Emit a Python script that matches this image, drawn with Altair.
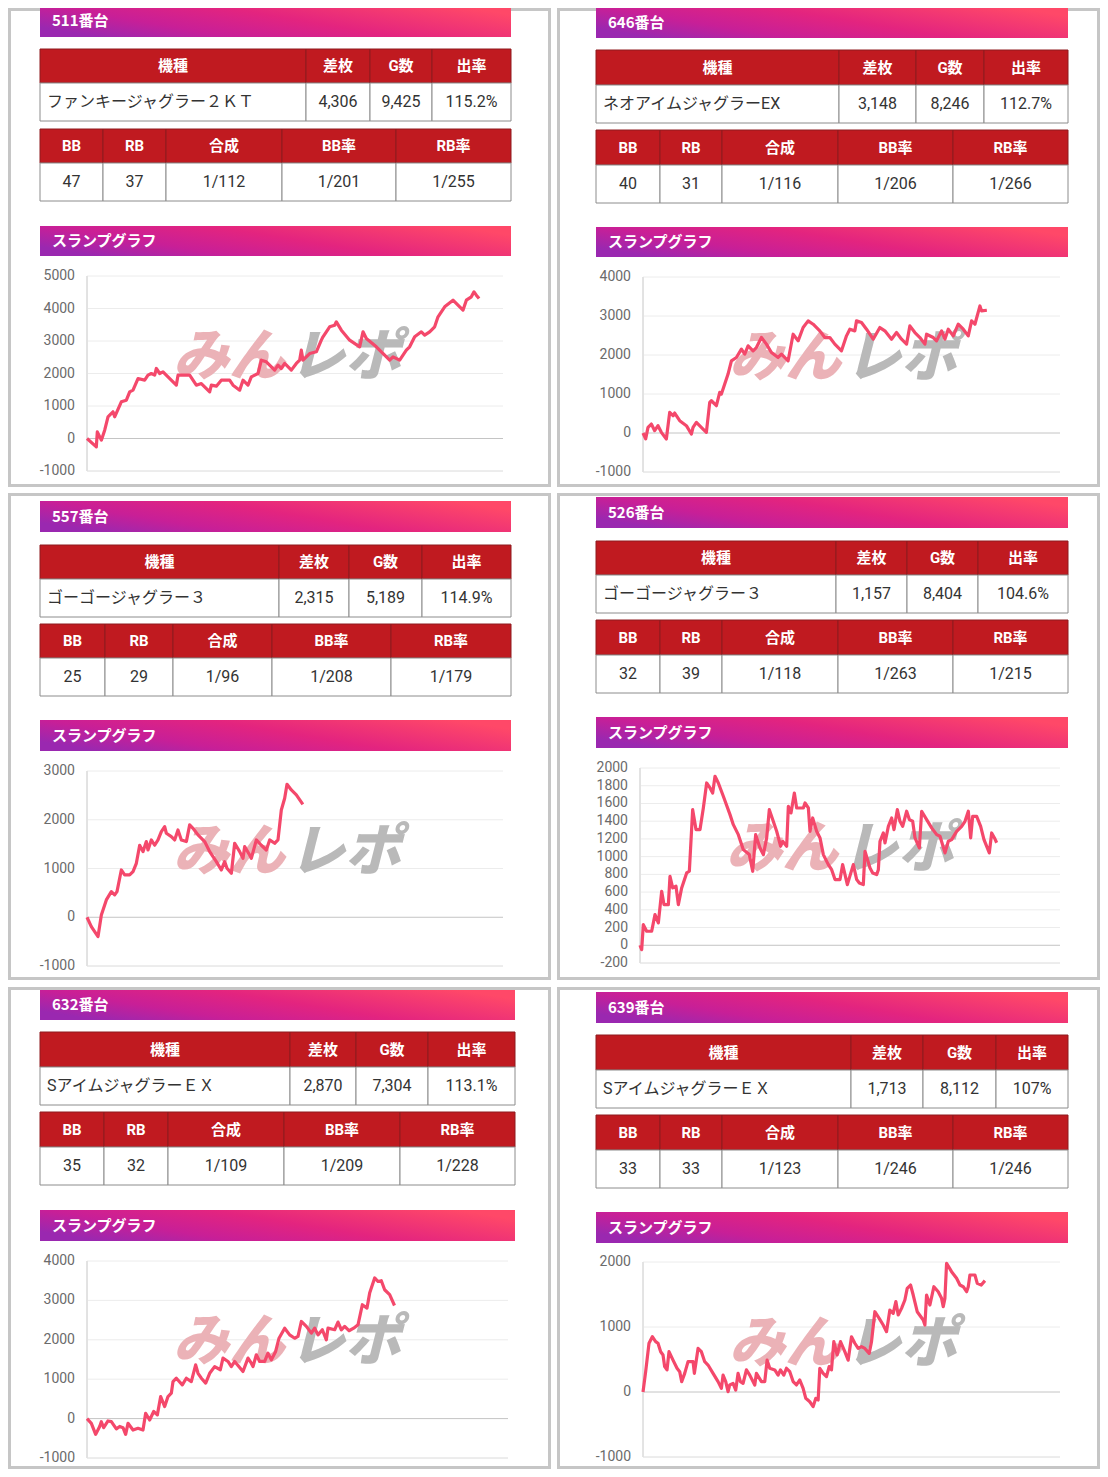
import altair as alt
import pandas as pd

# ------------------------------------------------------------------ data
units = ["511番台", "646番台", "557番台", "526番台", "632番台", "639番台"]
machines = ["ファンキージャグラー２ＫＴ", "ネオアイムジャグラーEX", "ゴーゴージャグラー３",
            "ゴーゴージャグラー３", "SアイムジャグラーＥＸ", "SアイムジャグラーＥＸ"]
diff_coins = ["4,306", "3,148", "2,315", "1,157", "2,870", "1,713"]
game_counts = ["9,425", "8,246", "5,189", "8,404", "7,304", "8,112"]
payout = ["115.2%", "112.7%", "114.9%", "104.6%", "113.1%", "107%"]
bb_counts = ["47", "40", "25", "32", "35", "33"]
rb_counts = ["37", "31", "29", "39", "32", "33"]
combined = ["1/112", "1/116", "1/96", "1/118", "1/109", "1/123"]
bb_rate = ["1/201", "1/206", "1/208", "1/263", "1/209", "1/246"]
rb_rate = ["1/255", "1/266", "1/179", "1/215", "1/228", "1/246"]
t1_heads = ["機種", "差枚", "G数", "出率"]
t2_heads = ["BB", "RB", "合成", "BB率", "RB率"]
slump_title = "スランプグラフ"

ticks_511 = [5000, 4000, 3000, 2000, 1000, 0, -1000]
ticks_646 = [4000, 3000, 2000, 1000, 0, -1000]
ticks_557 = [3000, 2000, 1000, 0, -1000]
ticks_526 = [2000, 1800, 1600, 1400, 1200, 1000, 800, 600, 400, 200, 0, -200]
ticks_632 = [4000, 3000, 2000, 1000, 0, -1000]
ticks_639 = [2000, 1000, 0, -1000]
games_max = 10000

# (games, coin difference)
s511 = [(0, 0), (224, -256), (248, 205), (345, -51), (425, 256), (505, 667), (545, 718), (625, 821),
        (665, 667), (825, 1128), (946, 1179), (1026, 1436), (1106, 1487), (1226, 1846), (1386, 1795),
        (1466, 1949), (1546, 2000), (1627, 1949), (1667, 2154), (1747, 2000), (1827, 2051), (1947, 1897),
        (2147, 1641), (2188, 1949), (2468, 1949), (2628, 1641), (2748, 1692), (2949, 1436), (2989, 1641),
        (3109, 1610), (3229, 1795), (3429, 1795), (3510, 1641), (3670, 1487), (3750, 1795), (3870, 1641),
        (3950, 1897), (4111, 2000), (4191, 2410), (4311, 2359), (4511, 2103), (4591, 2256), (4671, 2154),
        (4752, 2308), (4912, 2103), (5032, 2308), (5112, 2410), (5152, 2718), (5192, 2410), (5353, 2615),
        (5513, 2667), (5633, 3026), (5673, 3128), (5833, 3436), (5954, 3487), (5994, 3590), (6114, 3333),
        (6314, 3026), (6554, 2821), (6635, 3282), (6715, 3077), (6955, 2821), (7276, 2410), (7356, 2513),
        (7516, 2410), (7676, 2718), (7756, 2821), (7877, 3128), (8037, 3282), (8117, 3179), (8237, 3282),
        (8357, 3436), (8438, 3744), (8598, 4051), (8798, 4256), (9038, 3949), (9119, 4256), (9239, 4359),
        (9303, 4513), (9359, 4410), (9425, 4306)]
s646 = [(0, 0), (64, -150), (120, 145), (200, 230), (280, 60), (360, 188), (440, 17), (560, -154),
        (640, 529), (720, 444), (760, 512), (880, 316), (1040, 188), (1160, -26), (1200, 145), (1280, 273),
        (1440, 102), (1520, 17), (1600, 785), (1640, 827), (1760, 700), (1840, 1041), (1880, 998),
        (1960, 1254), (2040, 1510), (2120, 1851), (2240, 1936), (2360, 2150), (2440, 2022), (2520, 2235),
        (2640, 2107), (2720, 2192), (2840, 2448), (2960, 2278), (3080, 2064), (3240, 1936), (3320, 2022),
        (3480, 1851), (3600, 2533), (3720, 2363), (3840, 2704), (3960, 2875), (4080, 2789), (4240, 2619),
        (4360, 2448), (4480, 2448), (4600, 2278), (4760, 2107), (4880, 2491), (4960, 2661), (5080, 2619),
        (5120, 2875), (5240, 2832), (5360, 2661), (5520, 2405), (5680, 2704), (5800, 2619), (5960, 2405),
        (6080, 2576), (6200, 2405), (6320, 2278), (6400, 2747), (6520, 2576), (6640, 2448), (6760, 2278),
        (6800, 2533), (6960, 2448), (7040, 2363), (7160, 2619), (7240, 2405), (7320, 2661), (7440, 2491),
        (7560, 2789), (7680, 2661), (7800, 2491), (7880, 2875), (7960, 2789), (8080, 3258), (8120, 3130),
        (8246, 3148)]
s557 = [(0, 0), (104, -191), (265, -396), (345, 48), (385, 150), (465, 355), (585, 526), (665, 458),
        (721, 526), (825, 970), (905, 868), (1025, 868), (1106, 936), (1186, 1107), (1266, 1477),
        (1346, 1346), (1426, 1552), (1466, 1380), (1546, 1586), (1627, 1477), (1707, 1586), (1787, 1757),
        (1867, 1859), (1907, 1723), (2027, 1654), (2107, 1586), (2187, 1791), (2268, 1586), (2388, 1552),
        (2468, 1894), (2548, 1825), (2668, 1689), (2828, 1552), (2949, 1346), (3109, 1141), (3229, 970),
        (3309, 1141), (3365, 1004), (3470, 902), (3550, 1518), (3670, 1346), (3750, 1209), (3790, 1449),
        (3910, 1278), (3950, 1209), (4071, 1586), (4191, 1477), (4311, 1380), (4391, 1586), (4511, 1518),
        (4591, 1586), (4671, 2201), (4752, 2440), (4808, 2727), (4912, 2611), (5032, 2509), (5189, 2315)]
s526 = [(0, 0), (40, -50), (79, 233), (159, 158), (278, 158), (357, 346), (437, 252), (516, 609),
        (571, 459), (675, 459), (714, 778), (778, 647), (857, 666), (913, 459), (992, 647), (1111, 816),
        (1175, 835), (1254, 1530), (1333, 1305), (1429, 1305), (1508, 1550), (1587, 1831), (1667, 1775),
        (1730, 1718), (1786, 1906), (1865, 1831), (1984, 1681), (2143, 1474), (2222, 1361), (2341, 1248),
        (2460, 1079), (2603, 1023), (2683, 835), (2754, 1248), (2857, 1098), (2937, 1023), (3016, 1211),
        (3079, 1530), (3159, 1418), (3254, 1286), (3349, 1117), (3397, 1173), (3492, 1117), (3532, 1568),
        (3595, 1493), (3675, 1718), (3730, 1549), (3889, 1549), (3929, 1605), (4008, 1549), (4048, 1286),
        (4111, 1436), (4206, 1286), (4286, 1211), (4365, 1023), (4484, 910), (4563, 853), (4643, 741),
        (4762, 741), (4825, 910), (4937, 684), (5079, 910), (5159, 741), (5222, 703), (5317, 684),
        (5357, 1060), (5476, 872), (5540, 816), (5635, 797), (5675, 853), (5714, 1173), (5794, 1267),
        (5833, 1154), (5913, 1342), (5992, 1436), (6048, 1305), (6127, 1530), (6190, 1399), (6254, 1342),
        (6349, 1512), (6413, 1418), (6492, 1399), (6548, 1211), (6651, 1098), (6706, 1512), (6825, 1418),
        (6944, 1324), (7063, 1248), (7143, 1230), (7262, 1042), (7341, 1173), (7421, 1192), (7540, 1286),
        (7659, 1342), (7738, 1399), (7817, 1512), (7873, 1211), (7921, 1455), (8016, 1455), (8111, 1342),
        (8190, 1192), (8317, 1042), (8373, 1267), (8440, 1211), (8492, 1157)]
s632 = [(0, 0), (103, -120), (206, -400), (301, -200), (340, -80), (396, -230), (499, -60), (578, -75),
        (697, -260), (776, -200), (855, -230), (918, -400), (974, -120), (1093, -290), (1211, -245),
        (1330, -290), (1393, 135), (1488, -35), (1584, 180), (1671, 95), (1750, 560), (1845, 305),
        (1924, 560), (2003, 645), (2043, 940), (2122, 1025), (2264, 855), (2359, 1025), (2478, 940),
        (2581, 1365), (2637, 1150), (2716, 1025), (2819, 900), (2914, 1150), (3032, 1320), (3167, 1240),
        (3230, 1535), (3349, 1450), (3428, 1320), (3508, 1450), (3705, 1195), (3824, 1535), (3903, 1405),
        (3943, 1320), (4022, 1620), (4101, 1450), (4220, 1450), (4299, 1660), (4379, 1490), (4481, 1705),
        (4561, 2040), (4695, 2295), (4814, 2125), (4933, 2040), (5012, 2085), (5091, 2465), (5210, 2340),
        (5329, 2170), (5408, 2295), (5487, 2125), (5590, 2255), (5685, 2000), (5724, 2295), (5883, 2255),
        (5962, 2450), (6041, 2255), (6120, 2340), (6223, 2230), (6334, 2295), (6437, 2380), (6540, 2890),
        (6651, 2805), (6714, 3185), (6833, 3570), (6912, 3480), (6991, 3500), (7070, 3270), (7189, 3145),
        (7304, 2870)]
s639 = [(0, 0), (64, 313), (144, 750), (224, 850), (304, 775), (360, 750), (424, 620), (480, 570),
        (520, 390), (576, 340), (624, 620), (720, 490), (816, 365), (880, 313), (928, 160), (1000, 287),
        (1080, 467), (1200, 467), (1232, 287), (1320, 670), (1400, 620), (1480, 467), (1560, 415),
        (1680, 287), (1800, 160), (1880, 56), (1920, 260), (1984, 160), (2040, 5), (2080, 108), (2160, 133),
        (2224, 30), (2280, 287), (2336, 160), (2400, 133), (2480, 340), (2560, 260), (2680, 108), (2720, 287),
        (2840, 160), (2920, 160), (2976, 490), (3040, 365), (3160, 340), (3240, 260), (3296, 340),
        (3376, 260), (3440, 365), (3520, 313), (3600, 160), (3680, 108), (3760, 185), (3840, 56),
        (3904, -97), (4000, -150), (4080, -225), (4144, -97), (4200, -123), (4240, 365), (4320, 287),
        (4400, 236), (4464, 390), (4520, 340), (4576, 775), (4656, 570), (4736, 775), (4840, 620),
        (4920, 490), (5000, 850), (5080, 750), (5160, 670), (5240, 697), (5320, 670), (5424, 595),
        (5480, 775), (5560, 1235), (5664, 1133), (5760, 1030), (5840, 928), (5920, 1260), (6000, 1210),
        (6064, 1390), (6120, 1185), (6200, 1287), (6280, 1415), (6336, 1595), (6416, 1646), (6480, 1492),
        (6576, 1235), (6720, 1108), (6760, 1030), (6800, 1492), (6880, 1338), (6976, 1620), (7080, 1543),
        (7160, 1441), (7200, 1313), (7240, 1441), (7280, 1980), (7400, 1851), (7520, 1749), (7600, 1646),
        (7680, 1620), (7760, 1543), (7800, 1620), (7840, 1800), (7960, 1800), (8016, 1672), (8112, 1646),
        (8200, 1713)]

series = [s511, s646, s557, s526, s632, s639]
ticks = [ticks_511, ticks_646, ticks_557, ticks_526, ticks_632, ticks_639]

# ------------------------------------------------------------------ layout (reference page pixels)
OFF = 8
W, H = 1092, 1461
FONT = "Roboto, 'Noto Sans CJK JP', sans-serif"
JFONT = "'Noto Sans CJK JP', Roboto, sans-serif"
HEAD_RED = "#c01a20"
HEAD_LINE = "#8e1b1e"
CELL_LINE = "#8c8c8c"
LINE_COL = "#f4486b"

LAY = [
    dict(hdr=(40, 511, 5, 37), t1=(49, 83, 121), c1=(40, 306, 370, 432, 511), t2=(129, 163, 201),
         c2=(40, 103, 166, 282, 396, 511), sl=(226, 256), px=(87, 503), py=(276, 471)),
    dict(hdr=(596, 1068, 7, 38), t1=(50, 85, 123), c1=(596, 839, 916, 984, 1068), t2=(130, 165, 203),
         c2=(596, 660, 722, 838, 953, 1068), sl=(227, 257), px=(643, 1060), py=(277, 472)),
    dict(hdr=(40, 511, 501, 532), t1=(545, 579, 617), c1=(40, 279, 349, 422, 511), t2=(624, 658, 696),
         c2=(40, 105, 173, 272, 391, 511), sl=(720, 751), px=(87, 503), py=(771, 966)),
    dict(hdr=(596, 1068, 497, 528), t1=(541, 575, 613), c1=(596, 836, 907, 978, 1068), t2=(620, 655, 693),
         c2=(596, 660, 722, 838, 953, 1068), sl=(717, 748), px=(640, 1060), py=(768, 963)),
    dict(hdr=(40, 515, 990, 1020), t1=(1032, 1067, 1105), c1=(40, 290, 356, 428, 515), t2=(1112, 1147, 1185),
         c2=(40, 104, 168, 284, 400, 515), sl=(1210, 1241), px=(87, 508), py=(1261, 1458)),
    dict(hdr=(596, 1068, 992, 1023), t1=(1035, 1070, 1108), c1=(596, 851, 923, 996, 1068), t2=(1115, 1150, 1188),
         c2=(596, 660, 722, 838, 953, 1068), sl=(1212, 1243), px=(643, 1060), py=(1262, 1457)),
]
# cell frames in chart-local pixels
BOX = [(0, 543, 0, 479), (549, 1092, 0, 479), (0, 543, 485, 972),
       (549, 1092, 485, 972), (0, 543, 979, 1461), (549, 1092, 979, 1461)]


def P(v):
    return v - OFF


def mid(a, b):
    return (a + b) / 2


def XN(f):
    return alt.X(f, scale=None, axis=None)


def YN(f):
    return alt.Y(f, scale=None, axis=None)


frames = pd.DataFrame([dict(x=b[0] + 1.5, x2=b[1] - 1.5, y=b[2] + 1.5, y2=b[3] - 1.5) for b in BOX])

bars, cells, bar_txt, th_txt, td_txt, nm_txt, wm = [], [], [], [], [], [], []
for i, L in enumerate(LAY):
    hx0, hx1, hy0, hy1 = L["hdr"]
    s0, s1 = L["sl"]
    bars.append(dict(x=P(hx0), x2=P(hx1), y=P(hy0), y2=P(hy1)))
    bars.append(dict(x=P(hx0), x2=P(hx1), y=P(s0), y2=P(s1)))
    bar_txt.append(dict(x=P(hx0 + 12), y=P(mid(hy0, hy1)), t=units[i]))
    bar_txt.append(dict(x=P(hx0 + 12), y=P(mid(s0, s1)), t=slump_title))

    a, b, c = L["t1"]
    cc = L["c1"]
    row1 = [machines[i], diff_coins[i], game_counts[i], payout[i]]
    for j in range(4):
        cells.append(dict(x=P(cc[j]), x2=P(cc[j + 1]), y=P(a), y2=P(b), f=HEAD_RED, s=HEAD_LINE))
        cells.append(dict(x=P(cc[j]), x2=P(cc[j + 1]), y=P(b), y2=P(c), f="#ffffff", s=CELL_LINE))
        th_txt.append(dict(x=P(mid(cc[j], cc[j + 1])), y=P(mid(a, b)), t=t1_heads[j]))
        if j == 0:
            nm_txt.append(dict(x=P(cc[0] + 7), y=P(mid(b, c)), t=row1[0]))
        else:
            td_txt.append(dict(x=P(mid(cc[j], cc[j + 1])), y=P(mid(b, c)), t=row1[j]))

    a, b, c = L["t2"]
    cc = L["c2"]
    row2 = [bb_counts[i], rb_counts[i], combined[i], bb_rate[i], rb_rate[i]]
    for j in range(5):
        cells.append(dict(x=P(cc[j]), x2=P(cc[j + 1]), y=P(a), y2=P(b), f=HEAD_RED, s=HEAD_LINE))
        cells.append(dict(x=P(cc[j]), x2=P(cc[j + 1]), y=P(b), y2=P(c), f="#ffffff", s=CELL_LINE))
        th_txt.append(dict(x=P(mid(cc[j], cc[j + 1])), y=P(mid(a, b)), t=t2_heads[j]))
        td_txt.append(dict(x=P(mid(cc[j], cc[j + 1])), y=P(mid(b, c)), t=row2[j]))

    px0 = L["px"][0]
    wm.append(dict(x=P(px0 + 142), x2=P(px0 + 258), y=P(s1 + 102)))

grad = alt.LinearGradient(
    gradient="linear",
    stops=[alt.GradientStop(color="#9a28b0", offset=0),
           alt.GradientStop(color="#c81f97", offset=0.25),
           alt.GradientStop(color="#e3247f", offset=0.55),
           alt.GradientStop(color="#ff4868", offset=1)],
    x1=0, y1=0.7, x2=1, y2=0.3)

layers = []
layers.append(alt.Chart(frames).mark_rect(fill="white", stroke="#c6c6c6", strokeWidth=3).encode(
    x=XN("x:Q"), x2="x2:Q", y=YN("y:Q"), y2="y2:Q"))
layers.append(alt.Chart(pd.DataFrame(bars)).mark_rect(fill=grad).encode(
    x=XN("x:Q"), x2="x2:Q", y=YN("y:Q"), y2="y2:Q"))
layers.append(alt.Chart(pd.DataFrame(cells)).mark_rect(strokeWidth=1).encode(
    x=XN("x:Q"), x2="x2:Q", y=YN("y:Q"), y2="y2:Q",
    fill=alt.Fill("f:N", scale=None), stroke=alt.Stroke("s:N", scale=None)))
layers.append(alt.Chart(pd.DataFrame(bar_txt)).mark_text(
    align="left", baseline="middle", font=JFONT, fontSize=15, fontWeight="bold", color="white").encode(
    x=XN("x:Q"), y=YN("y:Q"), text="t:N"))
layers.append(alt.Chart(pd.DataFrame(th_txt)).mark_text(
    align="center", baseline="middle", font=FONT, fontSize=15, fontWeight="bold", color="white").encode(
    x=XN("x:Q"), y=YN("y:Q"), text="t:N"))
layers.append(alt.Chart(pd.DataFrame(td_txt)).mark_text(
    align="center", baseline="middle", font=FONT, fontSize=16, color="#333333").encode(
    x=XN("x:Q"), y=YN("y:Q"), text="t:N"))
layers.append(alt.Chart(pd.DataFrame(nm_txt)).mark_text(
    align="left", baseline="middle", font=FONT, fontSize=16, color="#333333").encode(
    x=XN("x:Q"), y=YN("y:Q"), text="t:N"))

for i, L in enumerate(LAY):
    tk = ticks[i]
    lo, hi = min(tk), max(tk)
    px0, px1 = L["px"]
    pyt, pyb = L["py"]
    ys = alt.Scale(domain=[lo, hi], range=[P(pyb), P(pyt)], nice=False, zero=False)
    tdf = pd.DataFrame(dict(t=tk, lab=[str(v) for v in tk],
                            c=["#c4c4c4" if v == 0 else ("#dadada" if v == lo else "#ececec") for v in tk]))
    layers.append(alt.Chart(tdf).mark_rule(strokeWidth=1).encode(
        y=alt.Y("t:Q", scale=ys, axis=None), x=alt.value(P(px0)), x2=alt.value(P(px1)),
        color=alt.Color("c:N", scale=None)))
    layers.append(alt.Chart(tdf).mark_rule(color="#e2e2e2", strokeWidth=1).encode(
        x=alt.value(P(px0)), y=alt.value(P(pyt)), y2=alt.value(P(pyb))))
    layers.append(alt.Chart(tdf).mark_text(
        align="right", baseline="middle", font=FONT, fontSize=14, color="#6b6b6b").encode(
        y=alt.Y("t:Q", scale=ys, axis=None), x=alt.value(P(px0) - 12), text="lab:N"))

wmdf = pd.DataFrame(wm)
layers.append(alt.Chart(wmdf).mark_text(
    text="みん", align="center", baseline="middle", font=JFONT, fontSize=56, fontWeight=900,
    fontStyle="italic", color="#ebb2b7").encode(x=XN("x:Q"), y=YN("y:Q")))
layers.append(alt.Chart(wmdf).mark_text(
    text="レポ", align="center", baseline="middle", font=JFONT, fontSize=56, fontWeight=900,
    fontStyle="italic", color="#b9b9b9").encode(x=XN("x2:Q"), y=YN("y:Q")))

for i, L in enumerate(LAY):
    tk = ticks[i]
    lo, hi = min(tk), max(tk)
    px0, px1 = L["px"]
    pyt, pyb = L["py"]
    xs = alt.Scale(domain=[0, games_max], range=[P(px0), P(px1)], nice=False, zero=False)
    ys = alt.Scale(domain=[lo, hi], range=[P(pyb), P(pyt)], nice=False, zero=False)
    sdf = pd.DataFrame(series[i], columns=["g", "v"])
    layers.append(alt.Chart(sdf).mark_line(color=LINE_COL, strokeWidth=3.2, strokeJoin="round").encode(
        x=alt.X("g:Q", scale=xs, axis=None), y=alt.Y("v:Q", scale=ys, axis=None)))

chart = alt.layer(*layers).resolve_scale(x="independent", y="independent").properties(
    width=W, height=H, padding=0, autosize=alt.AutoSizeParams(type="none"), background="white"
).configure_view(stroke=None)

chart.save("out.html", embed_options={"renderer": "svg", "actions": False})
